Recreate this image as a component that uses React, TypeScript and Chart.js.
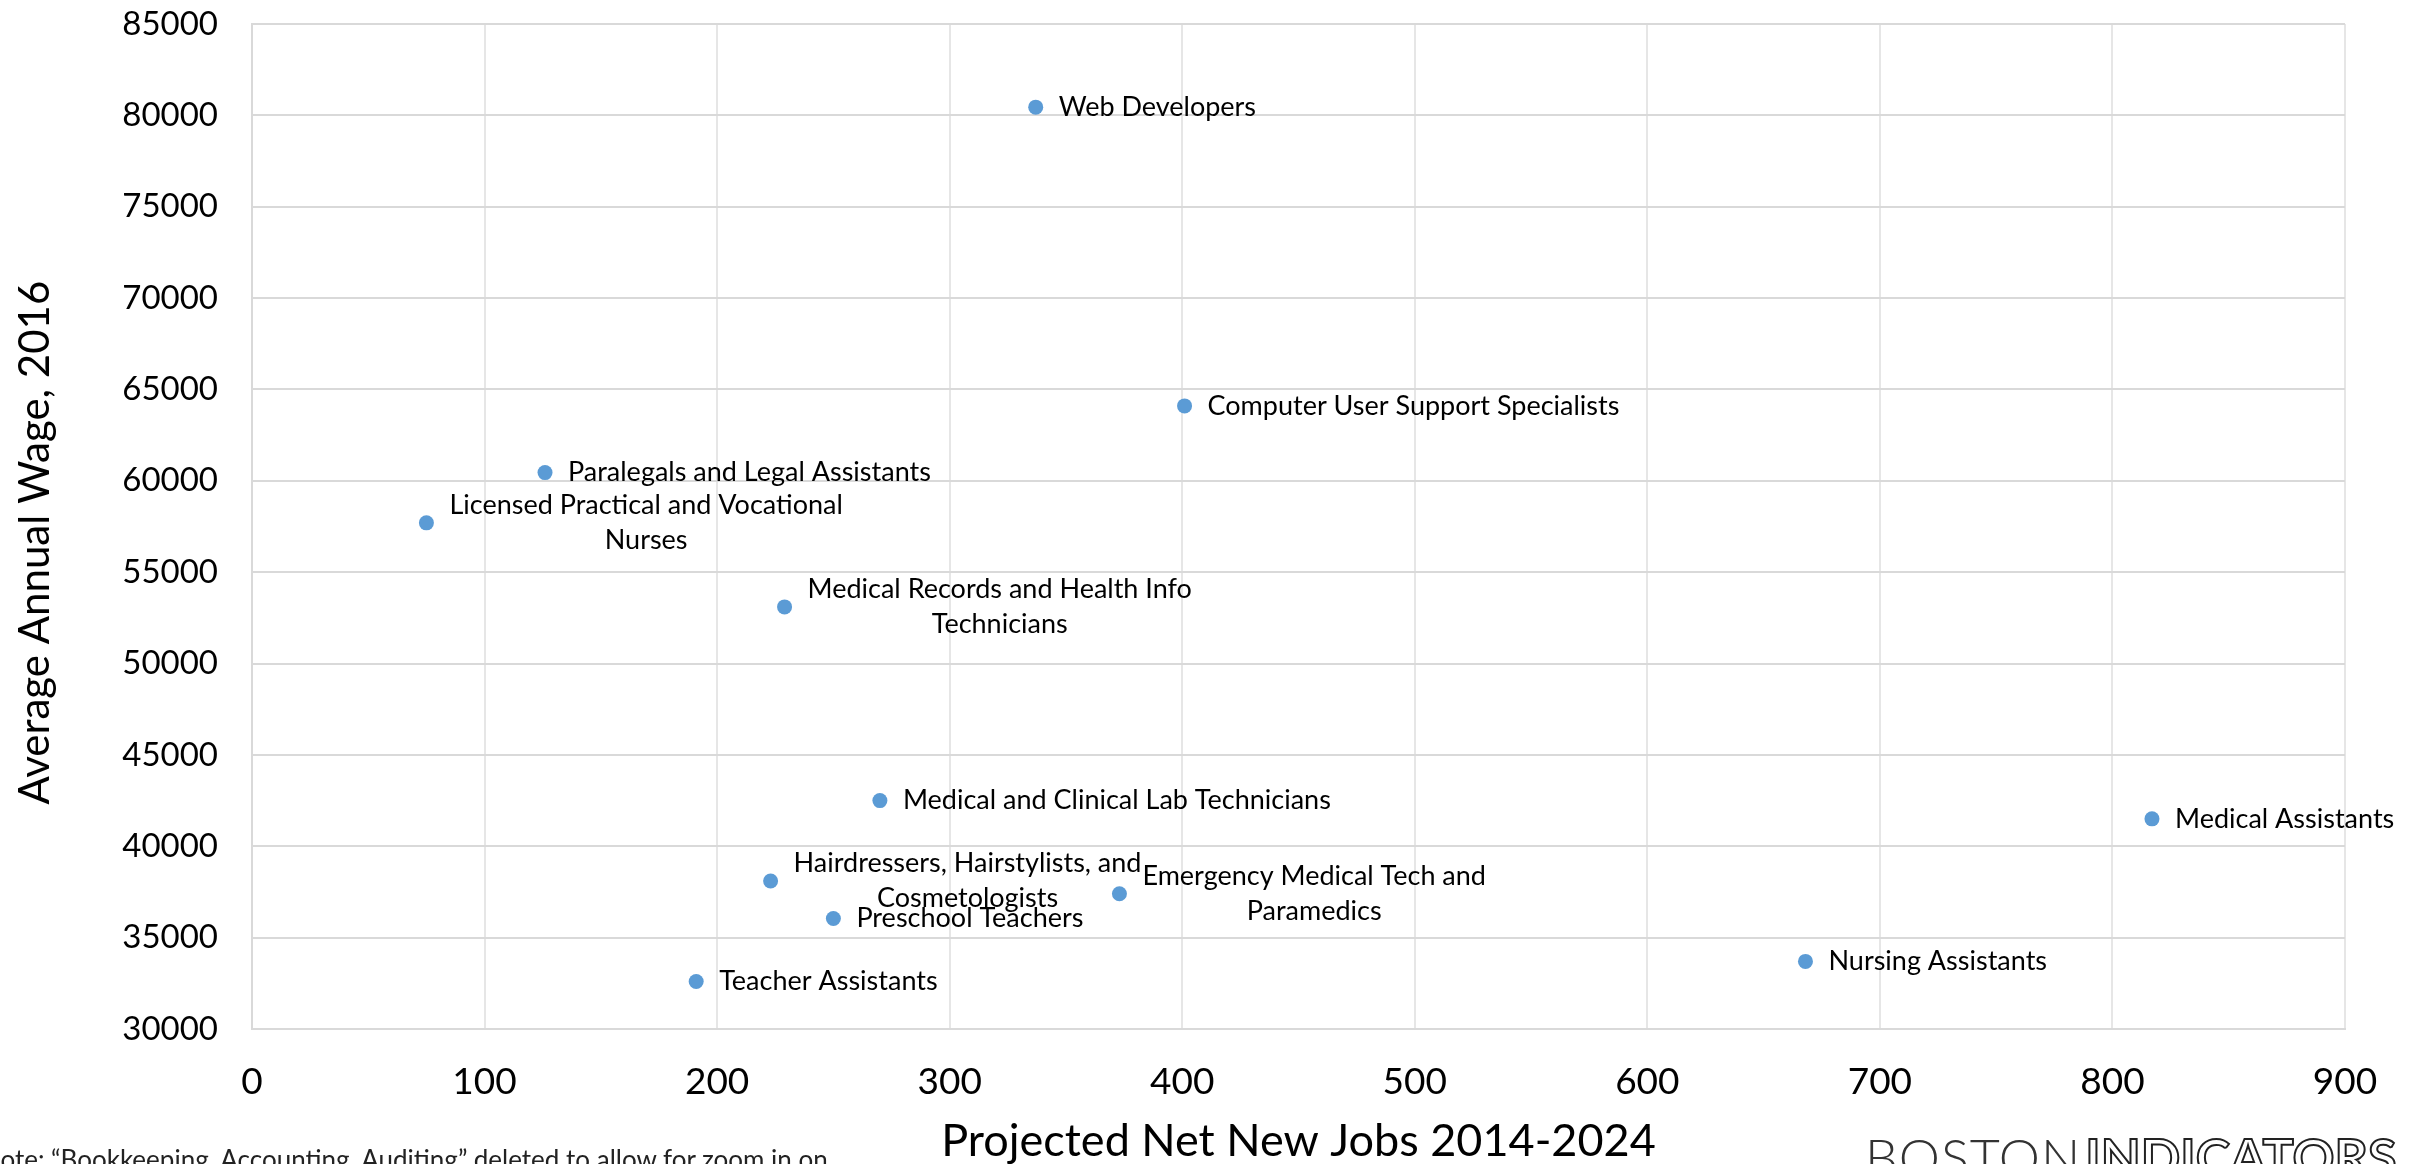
import React, { useEffect, useRef } from "react";
import { Chart, registerables } from "chart.js";

Chart.register(...registerables);

// ---- data ----
const occupations: string[] = [
  "Web Developers",
  "Computer User Support Specialists",
  "Paralegals and Legal Assistants",
  "Licensed Practical and Vocational\nNurses",
  "Medical Records and Health Info\nTechnicians",
  "Medical and Clinical Lab Technicians",
  "Medical Assistants",
  "Hairdressers, Hairstylists, and\nCosmetologists",
  "Emergency Medical Tech and\nParamedics",
  "Preschool Teachers",
  "Nursing Assistants",
  "Teacher Assistants",
];
const netNewJobs: number[] = [337, 401, 126, 75, 229, 270, 817, 223, 373, 250, 668, 191];
const avgWage: number[] = [80450, 64100, 60450, 57700, 53100, 42500, 41500, 38100, 37400, 36050, 33700, 32600];

const xTitle = "Projected Net New Jobs 2014-2024";
const yTitle = "Average Annual Wage, 2016";
const noteText = "Note: \u201CBookkeeping, Accounting, Auditing\u201D deleted to allow for zoom in on";

const W = 2427;
const H = 1164;

const labelPlugin = {
  id: "pointLabels",
  afterDatasetsDraw(chart: any) {
    const ctx = chart.ctx as CanvasRenderingContext2D;
    const meta = chart.getDatasetMeta(0);
    ctx.save();
    ctx.font = "27px Lato";
    ctx.fillStyle = "#000000";
    ctx.textBaseline = "middle";
    ctx.textAlign = "center";
    meta.data.forEach((pt: any, i: number) => {
      const lines = occupations[i].split("\n");
      const widths = lines.map((l) => ctx.measureText(l).width);
      const blockW = Math.max(...widths);
      const left = pt.x + 23;
      const lh = 35;
      const y0 = pt.y - ((lines.length - 1) * lh) / 2;
      lines.forEach((l, j) => {
        ctx.fillText(l, left + blockW / 2, y0 + j * lh);
      });
    });
    ctx.restore();
  },
};

export default function App() {
  const ref = useRef<HTMLCanvasElement | null>(null);

  useEffect(() => {
    if (!ref.current) return;
    const chart = new Chart(ref.current, {
      type: "scatter",
      data: {
        datasets: [
          {
            label: "Occupations",
            data: netNewJobs.map((x, i) => ({ x, y: avgWage[i] })),
            backgroundColor: "#5b9bd5",
            borderColor: "#5b9bd5",
            pointRadius: 7.5,
            pointBorderWidth: 0,
          },
        ],
      },
      options: {
        responsive: false,
        animation: false,
        layout: { padding: { left: 0, right: 82, top: 24, bottom: 0 } },
        plugins: {
          legend: { display: false },
          tooltip: { enabled: false },
        },
        scales: {
          x: {
            type: "linear",
            min: 0,
            max: 900,
            ticks: {
              stepSize: 100,
              color: "#000",
              font: { family: "Lato", size: 37 },
              padding: 31,
              callback: (v: any) => String(v),
            },
            grid: { color: "#e6e6e6", lineWidth: 2, drawTicks: false },
            border: { display: true, color: "#d9d9d9", width: 2 },
            title: {
              display: true,
              text: xTitle,
              color: "#000",
              font: { family: "Lato", size: 45 },
              padding: { top: 0, bottom: -4 },
            },
            afterFit: (scale: any) => {
              scale.height = 135;
              scale.paddingLeft = 0;
              scale.paddingRight = 0;
            },
          },
          y: {
            type: "linear",
            min: 30000,
            max: 85000,
            ticks: {
              stepSize: 5000,
              color: "#000",
              font: { family: "Lato", size: 33 },
              padding: 34,
              callback: (v: any) => String(v),
            },
            grid: { color: "#d9d9d9", lineWidth: 2, drawTicks: false },
            border: { display: true, color: "#d9d9d9", width: 2 },
            title: {
              display: true,
              text: yTitle + "   ",
              color: "#000",
              font: { family: "Lato", size: 42 },
              padding: { top: 10, bottom: 0 },
            },
            afterFit: (scale: any) => {
              scale.width = 252;
              scale.paddingTop = 0;
              scale.paddingBottom = 0;
            },
          },
        },
      },
      plugins: [labelPlugin],
    });
    return () => chart.destroy();
  }, []);

  return (
    <div
      style={{
        position: "fixed",
        left: 0,
        top: 0,
        width: W,
        height: H,
        overflow: "hidden",
        background: "#ffffff",
      }}
    >
      <canvas ref={ref} width={W} height={H} style={{ position: "absolute", left: 0, top: 0 }} />
      <div
        style={{
          position: "absolute",
          left: -19,
          top: 1146,
          fontFamily: "Lato",
          fontSize: 26,
          lineHeight: 1,
          color: "#222",
          whiteSpace: "nowrap",
        }}
      >
        {noteText}
      </div>
      <div
        style={{
          position: "absolute",
          left: 1865,
          top: 1130,
          fontFamily: "Lato",
          fontSize: 52,
          lineHeight: 1,
          whiteSpace: "nowrap",
          letterSpacing: 1,
        }}
      >
        <span style={{ fontWeight: 300, color: "#333" }}>BOSTON</span>
        <span
          style={{
            marginLeft: 4,
            fontWeight: 700,
            color: "#ffffff",
            WebkitTextStroke: "2px #222",
            letterSpacing: 0,
          }}
        >
          INDICATORS
        </span>
      </div>
    </div>
  );
}
